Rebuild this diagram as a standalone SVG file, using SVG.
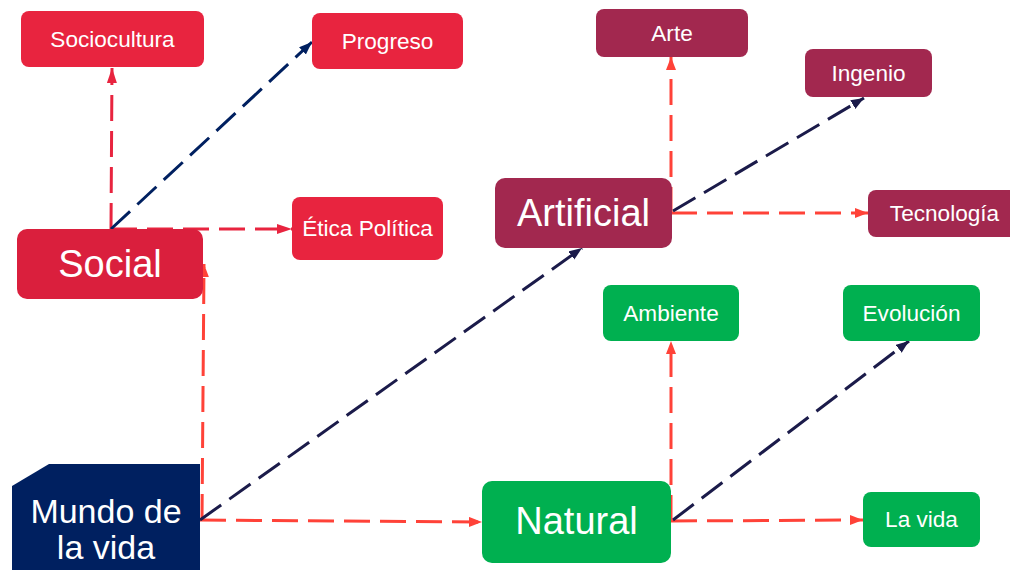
<svg xmlns="http://www.w3.org/2000/svg" width="1010" height="570" viewBox="0 0 1010 570">
<defs>
<style>
.t{font-family:"Liberation Sans",Arial,sans-serif;fill:#fff;text-anchor:middle}
.s{font-size:22.6px}
.b{font-size:38px}
.red{fill:#E8243F}
.mar{fill:#A2284F}
.grn{fill:#00B050}
.c{fill:none;stroke-width:3;stroke-dasharray:26 10}
.cr{stroke:#FF4238}
.cs{stroke:#E8243F}
.cb{stroke:#1B1B4A}
.cn{stroke:#002060}
</style>
<marker id="ar" markerUnits="userSpaceOnUse" markerWidth="14" markerHeight="12" refX="13" refY="5" orient="auto"><path d="M0,0 L13,5 L0,10 z" fill="#FF4238"/></marker>
<marker id="as" markerUnits="userSpaceOnUse" markerWidth="16" markerHeight="12" refX="15" refY="5" orient="auto"><path d="M0,0 L15,5 L0,10 z" fill="#E8243F"/></marker>
<marker id="ab" markerUnits="userSpaceOnUse" markerWidth="14" markerHeight="12" refX="13" refY="5" orient="auto"><path d="M0,0 L13,5 L0,10 z" fill="#1B1B4A"/></marker>
<marker id="an" markerUnits="userSpaceOnUse" markerWidth="14" markerHeight="12" refX="13" refY="5" orient="auto"><path d="M0,0 L13,5 L0,10 z" fill="#002060"/></marker>
</defs>
<g id="connectors">
<line class="c cs" x1="111" y1="229" x2="112" y2="68" marker-end="url(#as)"/>
<line class="c cs" x1="111" y1="229" x2="292" y2="229" marker-end="url(#as)"/>
<line class="c cn" x1="111" y1="229" x2="312" y2="42" marker-end="url(#an)"/>
<line class="c cr" x1="202" y1="520" x2="204" y2="264" marker-end="url(#ar)"/>
<line class="c cr" x1="200" y1="520" x2="482" y2="522" marker-end="url(#ar)"/>
<line class="c cb" x1="200" y1="520" x2="582" y2="248" marker-end="url(#ab)"/>
<line class="c cr" x1="671" y1="213" x2="671" y2="57" marker-end="url(#ar)"/>
<line class="c cr" x1="671" y1="213" x2="868" y2="213" marker-end="url(#ar)"/>
<line class="c cb" x1="673" y1="211" x2="864" y2="98" marker-end="url(#ab)"/>
<line class="c cr" x1="671" y1="521" x2="671" y2="341" marker-end="url(#ar)"/>
<line class="c cr" x1="671" y1="521" x2="863" y2="520" marker-end="url(#ar)"/>
<line class="c cb" x1="673" y1="520" x2="909" y2="341" marker-end="url(#ab)"/>
</g>
<g id="social"><rect x="17" y="229" width="186" height="70" rx="10" fill="#DA1F3D"/><text class="t b" x="110" y="277">Social</text></g>
<g id="sociocultura"><rect class="red" x="21" y="11" width="183" height="56" rx="8"/><text class="t s" x="112.5" y="47">Sociocultura</text></g>
<g id="progreso"><rect class="red" x="312" y="13" width="151" height="56" rx="8"/><text class="t s" x="387.5" y="49">Progreso</text></g>
<g id="etica"><rect class="red" x="292" y="197" width="151" height="63" rx="8"/><text class="t s" x="367.5" y="236">Ética Política</text></g>
<g id="artificial"><rect class="mar" x="495" y="178" width="177" height="70" rx="10"/><text class="t b" x="583.5" y="226">Artificial</text></g>
<g id="arte"><rect class="mar" x="596" y="9" width="152" height="48" rx="8"/><text class="t s" x="672" y="41">Arte</text></g>
<g id="ingenio"><rect class="mar" x="805" y="49" width="127" height="48" rx="8"/><text class="t s" x="868.5" y="81">Ingenio</text></g>
<g id="tecnologia"><rect class="mar" x="868" y="190" width="156" height="47" rx="8"/><text class="t s" x="944.5" y="221">Tecnología</text></g>
<g id="natural"><rect class="grn" x="482" y="481" width="189" height="82" rx="10"/><text class="t b" x="576.5" y="534">Natural</text></g>
<g id="ambiente"><rect class="grn" x="603" y="285" width="136" height="56" rx="8"/><text class="t s" x="671" y="321">Ambiente</text></g>
<g id="evolucion"><rect class="grn" x="843" y="285" width="137" height="56" rx="8"/><text class="t s" x="911.5" y="321">Evolución</text></g>
<g id="lavida"><rect class="grn" x="863" y="492" width="117" height="55" rx="8"/><text class="t s" x="921.5" y="527">La vida</text></g>
<g id="mundo"><path d="M12,486 L49,464 L200,464 L200,570 L12,570 z" fill="#002060"/><text class="t" style="font-size:34px" x="106" y="523">Mundo de</text><text class="t" style="font-size:34px" x="106" y="559">la vida</text></g>
</svg>
